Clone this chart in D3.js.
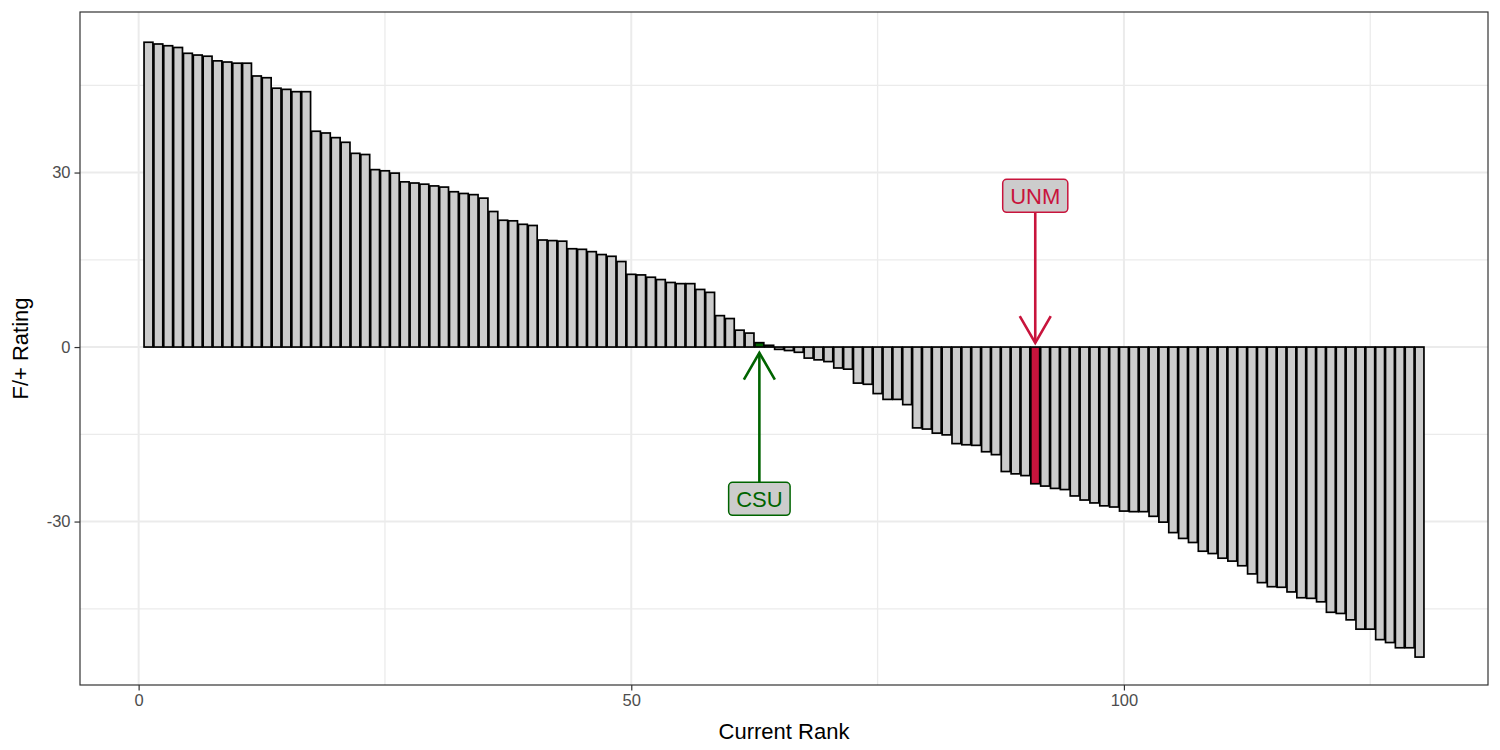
<!DOCTYPE html>
<html>
<head>
<meta charset="utf-8">
<script src="https://cdn.jsdelivr.net/npm/d3@7"></script>
<style>
  html, body { margin: 0; padding: 0; background: #ffffff; }
  svg { display: block; font-family: "Liberation Sans", Arial, Helvetica, sans-serif; }
</style>
</head>
<body>
<svg id="chart" width="1500" height="750"></svg>
<script>
// ---- data ----
const ranks = d3.range(1, 131);
const ratings = [
  52.4, 52.1, 51.8, 51.5, 50.5, 50.2, 50.0, 49.2, 49.0, 48.8,
  48.8, 46.6, 46.3, 44.5, 44.3, 43.9, 43.9, 37.1, 36.8, 36.0,
  35.2, 33.3, 33.1, 30.5, 30.3, 29.9, 28.4, 28.2, 28.0, 27.7,
  27.5, 26.7, 26.4, 26.2, 25.6, 23.3, 21.8, 21.7, 21.1, 20.9,
  18.4, 18.3, 18.2, 16.9, 16.8, 16.4, 15.9, 15.6, 14.7, 12.5,
  12.4, 12.0, 11.6, 11.1, 10.9, 10.9, 9.9, 9.4, 5.4, 4.9,
  2.9, 2.4, 0.75, 0.3, -0.4, -0.6, -0.9, -1.9, -2.2, -2.5,
  -3.6, -3.8, -6.2, -6.4, -8.0, -9.0, -9.0, -9.9, -13.9, -14.1,
  -14.8, -15.1, -16.6, -16.8, -16.9, -18.0, -18.5, -21.4, -21.8, -22.1,
  -23.5, -23.9, -24.3, -24.5, -25.6, -26.3, -26.8, -27.3, -27.5, -28.2,
  -28.3, -28.3, -29.1, -30.1, -31.9, -32.9, -33.6, -35.1, -35.5, -36.3,
  -36.8, -37.6, -39.0, -40.5, -41.2, -41.3, -42.1, -43.1, -43.2, -43.8,
  -45.6, -45.8, -46.9, -48.5, -48.5, -50.3, -50.8, -51.7, -51.7, -53.3
];
const highlightTeams = ["CSU", "UNM"];
const highlightRanks = [63, 91];
const highlightColors = ["#006400", "#c8143c"];
const labelY = [-26.1, 26.0];
const arrowTipY = [-1.0, 0.7];

const xTicks = [0, 50, 100];
const xMinor = [25, 75, 125];
const yTicks = [-30, 0, 30];
const yMinor = [-45, -15, 15, 45];

// ---- layout ----
const panel = { left: 80, right: 1488, top: 12, bottom: 685 };
const svg = d3.select("#chart");

const x = d3.scaleLinear().domain([-5.95, 136.95]).range([panel.left, panel.right]);
const y = d3.scaleLinear().domain([-58.1, 57.6]).range([panel.bottom, panel.top]);
const barW = x(0.9) - x(0);

// grid
const grid = svg.append("g");
grid.selectAll(".ymin").data(yMinor).join("line")
  .attr("x1", panel.left).attr("x2", panel.right)
  .attr("y1", d => y(d)).attr("y2", d => y(d))
  .attr("stroke", "#ebebeb").attr("stroke-width", 1.3);
grid.selectAll(".xmin").data(xMinor).join("line")
  .attr("y1", panel.top).attr("y2", panel.bottom)
  .attr("x1", d => x(d)).attr("x2", d => x(d))
  .attr("stroke", "#ebebeb").attr("stroke-width", 1.3);
grid.selectAll(".ymaj").data(yTicks).join("line")
  .attr("x1", panel.left).attr("x2", panel.right)
  .attr("y1", d => y(d)).attr("y2", d => y(d))
  .attr("stroke", "#ebebeb").attr("stroke-width", 2);
grid.selectAll(".xmaj").data(xTicks).join("line")
  .attr("y1", panel.top).attr("y2", panel.bottom)
  .attr("x1", d => x(d)).attr("x2", d => x(d))
  .attr("stroke", "#ebebeb").attr("stroke-width", 2);

// bars
const bars = ranks.map((r, i) => ({ rank: r, value: ratings[i] }));
svg.append("g").selectAll("rect").data(bars).join("rect")
  .attr("x", d => x(d.rank - 0.45))
  .attr("width", barW)
  .attr("y", d => y(Math.max(0, d.value)))
  .attr("height", d => Math.abs(y(d.value) - y(0)))
  .attr("fill", d => {
    const k = highlightRanks.indexOf(d.rank);
    return k >= 0 ? highlightColors[k] : "#cccccc";
  })
  .attr("stroke", "#000000")
  .attr("stroke-width", 1.7);

// annotations: arrows + labels
const ann = highlightTeams.map((t, i) => ({
  team: t, rank: highlightRanks[i], color: highlightColors[i], ly: labelY[i], tip: arrowTipY[i]
}));
const aG = svg.append("g");
const headLen = 31, headAng = 30 * Math.PI / 180;
ann.forEach(a => {
  const x0 = x(a.rank), y0 = y(a.ly), y1 = y(a.tip);
  aG.append("line")
    .attr("x1", x0).attr("x2", x0).attr("y1", y0).attr("y2", y1)
    .attr("stroke", a.color).attr("stroke-width", 2.6);
  const dir = y1 > y0 ? -1 : 1; // head points back toward label
  const pts = [
    [x0 - headLen * Math.sin(headAng), y1 + dir * headLen * Math.cos(headAng)],
    [x0, y1],
    [x0 + headLen * Math.sin(headAng), y1 + dir * headLen * Math.cos(headAng)]
  ];
  aG.append("path")
    .attr("d", d3.line()(pts))
    .attr("fill", "none").attr("stroke", a.color).attr("stroke-width", 2.6)
    .attr("stroke-linejoin", "miter");
});
ann.forEach(a => {
  const g = aG.append("g").attr("transform", `translate(${x(a.rank)},${y(a.ly)})`);
  const txt = g.append("text")
    .attr("text-anchor", "middle").attr("dy", "0.36em")
    .attr("font-size", 22).attr("fill", a.color).text(a.team);
  const bb = txt.node().getBBox();
  g.insert("rect", "text")
    .attr("x", bb.x - 7.5).attr("y", -16.5)
    .attr("width", bb.width + 15).attr("height", 33)
    .attr("rx", 4).attr("ry", 4)
    .attr("fill", "#cccccc").attr("stroke", a.color).attr("stroke-width", 1.5);
});

// panel border
svg.append("rect")
  .attr("x", panel.left).attr("y", panel.top)
  .attr("width", panel.right - panel.left).attr("height", panel.bottom - panel.top)
  .attr("fill", "none").attr("stroke", "#333333").attr("stroke-width", 1.2);

// axes
const fmt = d => String(d);
const xAxis = svg.append("g").attr("transform", `translate(0,${panel.bottom})`)
  .call(d3.axisBottom(x).tickValues(xTicks).tickFormat(fmt).tickSize(5.5).tickPadding(4));
const yAxis = svg.append("g").attr("transform", `translate(${panel.left},0)`)
  .call(d3.axisLeft(y).tickValues(yTicks).tickFormat(fmt).tickSize(5.5).tickPadding(4));
[xAxis, yAxis].forEach(ax => {
  ax.select(".domain").remove();
  ax.selectAll(".tick line").attr("stroke", "#333333").attr("stroke-width", 1.2);
  ax.selectAll(".tick text").attr("fill", "#4d4d4d").attr("font-size", 16.5)
    .attr("font-family", "Liberation Sans, Arial, sans-serif");
});

// axis titles
svg.append("text")
  .attr("x", (panel.left + panel.right) / 2).attr("y", 739)
  .attr("text-anchor", "middle").attr("font-size", 22).attr("fill", "#000")
  .text("Current Rank");
svg.append("text")
  .attr("transform", `translate(28,${(panel.top + panel.bottom) / 2}) rotate(-90)`)
  .attr("text-anchor", "middle").attr("font-size", 22).attr("fill", "#000")
  .text("F/+ Rating");
</script>
</body>
</html>
